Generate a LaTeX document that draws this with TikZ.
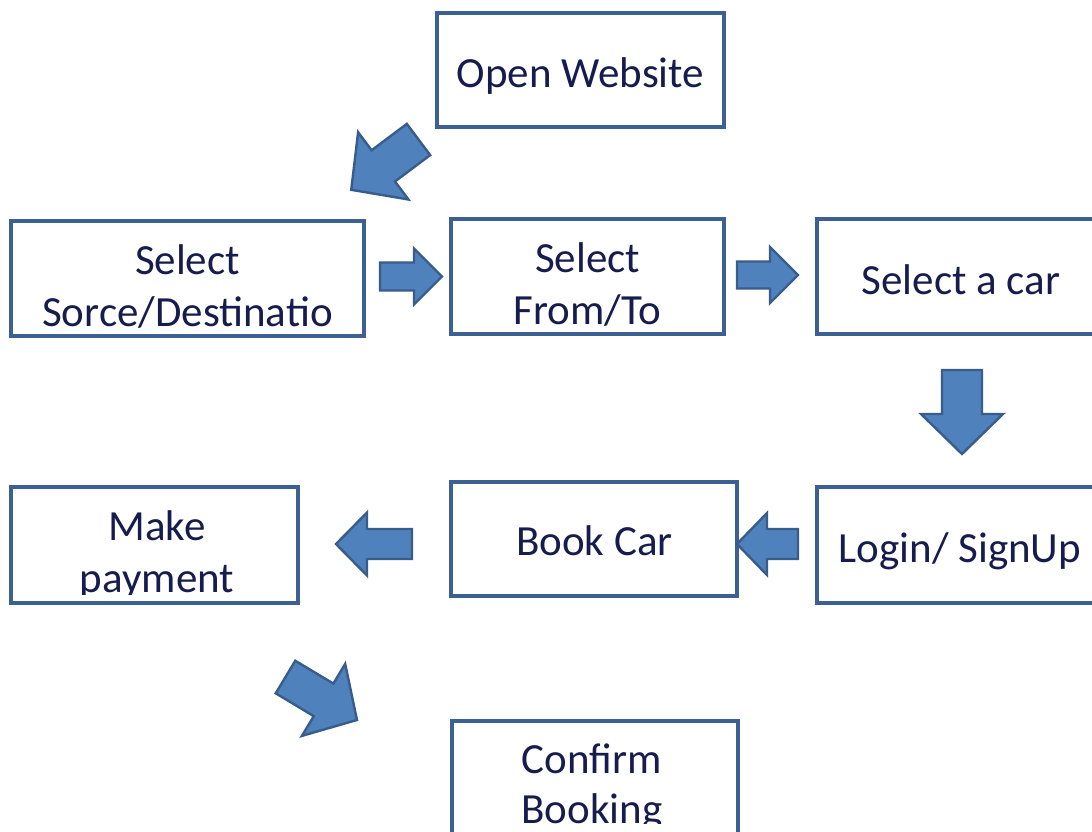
\documentclass[tikz,border=0pt]{standalone}
\usepackage{fontspec}
\setmainfont{Carlito}
\definecolor{txt}{RGB}{22,28,78}
\definecolor{boxc}{RGB}{60,96,146}
\definecolor{afill}{RGB}{79,129,189}
\definecolor{aline}{RGB}{56,93,138}
\tikzset{
  box/.style={draw=boxc, line width=3.2pt, rectangle, inner sep=0pt},
  lbl/.style={text=txt, font=\fontsize{43}{52}\selectfont, anchor=base, inner sep=0pt},
  blockarrow/.style={fill=afill, draw=aline, line width=2.4pt, line join=miter},
}
% #1 start coordinate, #2 angle, #3 length, #4 half shaft width, #5 half head width, #6 head length
\newcommand\barrow[6]{%
  \filldraw[blockarrow, shift={(#1)}, rotate=#2]
    (0,-#4) -- ({#3-#6},-#4) -- ({#3-#6},-#5) -- (#3,0) -- ({#3-#6},#5) -- ({#3-#6},#4) -- (0,#4) -- cycle;}
\begin{document}
\begin{tikzpicture}[x=1pt,y=-1pt]
\useasboundingbox (0,0) rectangle (1092,831);
\clip (0,0) rectangle (1092,831);
\fill[white] (0,0) rectangle (1092,831);

% boxes
\node[box, minimum width=287pt, minimum height=114pt] (open) at (580.5,70) {};
\node[box, minimum width=353pt, minimum height=115pt] (sorce) at (187.5,278.5) {};
\node[box, minimum width=273pt, minimum height=115pt] (fromto) at (587.5,276.5) {};
\node[box, minimum width=287pt, minimum height=115pt] (car) at (960.5,276.5) {};
\node[box, minimum width=287pt, minimum height=116pt] (pay) at (154.5,545) {};
\node[box, minimum width=286pt, minimum height=114pt] (book) at (594,539) {};
\node[box, minimum width=287pt, minimum height=116pt] (login) at (960.5,545) {};
\node[box, minimum width=286pt, minimum height=114pt] (confirm) at (595,778) {};

% labels
\node[lbl] (t-open) at (580.5,87) {Open Website};
\node[lbl] (t-sorce1) at (187.5,274) {Select};
\node[lbl] (t-sorce2) at (187.5,326) {Sorce/Destinatio};
\node[lbl] (t-from1) at (587.5,272) {Select};
\node[lbl] (t-from2) at (587.5,324) {From/To};
\node[lbl] (t-car) at (961,294) {Select a car};
\node[lbl] (t-book) at (594.5,555) {Book Car};
\node[lbl] (t-login) at (960,562) {Login/ SignUp};
\node[lbl] (t-pay1) at (157,540) {Make};
\begin{scope}
  \clip (13,489) rectangle (296,594);
  \node[lbl] (t-pay2) at (157,592) {payment};
\end{scope}
\begin{scope}
  \clip (454,723) rectangle (736,823);
  \node[lbl] (t-conf1) at (592,773) {Confirm};
  \node[lbl] (t-conf2) at (592,823) {Booking};
\end{scope}

% block arrows (connectors)
\coordinate (a1) at (418.5,139.5);
\coordinate (a2) at (380,276.5);
\coordinate (a3) at (737,275);
\coordinate (a4) at (962,370);
\coordinate (a5) at (798,544);
\coordinate (a6) at (412,544);
\coordinate (a7) at (285.5,677);
\barrow{a1}{216.8}{84}{19.5}{42}{40}
\barrow{a2}{0}{62}{14}{28}{28}
\barrow{a3}{0}{61}{13.5}{28}{28}
\barrow{a4}{-90}{84}{20}{41}{40}
\barrow{a5}{180}{61}{15}{31}{30}
\barrow{a6}{180}{76}{15}{31.5}{31}
\barrow{a7}{-31}{83.4}{19}{42}{39}
\end{tikzpicture}
\end{document}
